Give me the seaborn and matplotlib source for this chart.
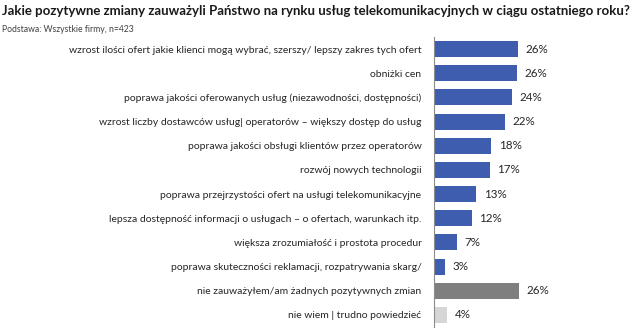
import matplotlib
matplotlib.use("Agg")
import matplotlib.pyplot as plt
import seaborn as sns
import pandas as pd
import numpy as np

categories = [
    "wzrost ilości ofert jakie klienci mogą wybrać, szerszy/ lepszy zakres tych ofert",
    "obniżki cen",
    "poprawa jakości oferowanych usług (niezawodności, dostępności)",
    "wzrost liczby dostawców usług| operatorów – większy dostęp do usług",
    "poprawa jakości obsługi klientów przez operatorów",
    "rozwój nowych technologii",
    "poprawa przejrzystości ofert na usługi telekomunikacyjne",
    "lepsza dostępność informacji o usługach – o ofertach, warunkach itp.",
    "większa zrozumiałość i prostota procedur",
    "poprawa skuteczności reklamacji, rozpatrywania skarg/",
    "nie zauważyłem/am żadnych pozytywnych zmian",
    "nie wiem | trudno powiedzieć",
]
values = [26.0, 25.8, 24.2, 21.9, 17.7, 17.2, 13.1, 11.8, 7.1, 3.3, 26.4, 4.1]
labels = ["26%", "26%", "24%", "22%", "18%", "17%", "13%", "12%", "7%", "3%", "26%", "4%"]
groups = ["pos"] * 10 + ["none", "dk"]

title = "Jakie pozytywne zmiany zauważyli Państwo na rynku usług telekomunikacyjnych w ciągu ostatniego roku?"
subtitle = "Podstawa: Wszystkie firmy, n=423"

sns.set_style("white")
plt.rcParams["font.family"] = ["Lato", "DejaVu Sans"]

df = pd.DataFrame({"cat": categories, "val": values, "grp": groups})
palette = {"pos": "#3F5DAF", "none": "#7F7F7F", "dk": "#D6D6D6"}

fig = plt.figure(figsize=(6.4, 3.32), dpi=100)
ax = fig.add_axes([434 / 640, 5 / 332, 0.25, 290 / 332])
sns.barplot(data=df, y="cat", x="val", hue="grp", palette=palette, dodge=False,
            legend=False, ax=ax, width=0.66, edgecolor="none", saturation=1)
ax.set_xlim(0, 0.25 * 640 / 3.23)
ax.set_ylim(len(categories) - 0.5, -0.5)
ax.set_xlabel("")
ax.set_ylabel("")
ax.set_xticks([])
for s in ["top", "right", "bottom"]:
    ax.spines[s].set_visible(False)
ax.spines["left"].set_color("#8C8C8C")
ax.spines["left"].set_linewidth(0.8)
ax.tick_params(axis="y", which="major", length=0, pad=9, labelsize=7.5, labelcolor="#262626")
ax.set_yticks(np.arange(-0.5, len(categories) + 0.5, 1), minor=True)
ax.tick_params(axis="y", which="minor", length=3, color="#8C8C8C", width=0.8, direction="out")

for i, (v, lab) in enumerate(zip(values, labels)):
    ax.text(v + 2.3, i, lab, va="center", ha="left", fontsize=8.4, color="#262626")

fig.text(0.003, 0.985, title, ha="left", va="top", fontsize=9.55, fontweight="bold",
         color="#1a1a1a")
fig.text(0.003, 0.925, subtitle, ha="left", va="top", fontsize=6.2, color="#404040")

fig.savefig("out.png", dpi=100)
